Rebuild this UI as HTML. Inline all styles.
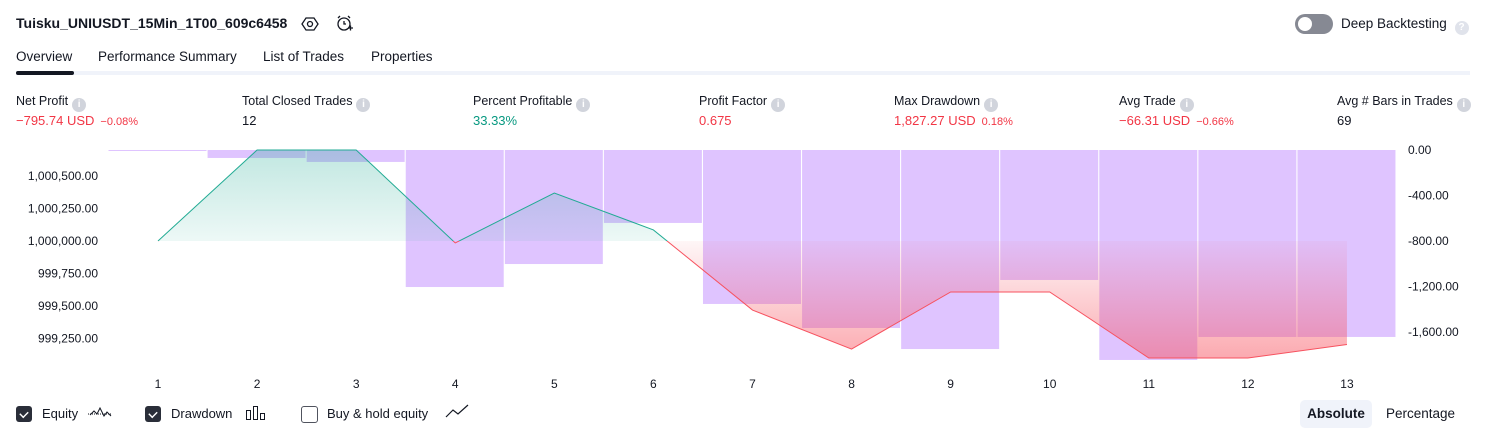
<!DOCTYPE html>
<html><head><meta charset="utf-8">
<style>
body{margin:0;width:1486px;height:438px;background:#fff;font-family:"Liberation Sans",sans-serif;color:#131722;overflow:hidden;position:relative}
.a{position:absolute;white-space:nowrap}
.lbl{font-size:12.5px;color:#131722}
.val{font-size:13px}
.red{color:#f23645}.grn{color:#089981}
.info{display:inline-block;width:14px;height:14px;border-radius:50%;background:#d1d4dc;color:#fff;font-size:10px;text-align:center;line-height:14px;font-weight:bold;vertical-align:-2px;margin-left:4px}
.pct{font-size:11px;margin-left:6px}
.tab{font-size:13.5px;top:49px}
.cb{position:absolute;width:16px;height:16px;border-radius:3px;top:406px}
</style></head><body>
<div class="a" style="left:16px;top:15px;font-size:14px;font-weight:bold">Tuisku_UNIUSDT_15Min_1T00_609c6458</div>
<svg class="a" style="left:301px;top:15px" width="18" height="18" viewBox="0 0 18 18"><path d="M5 3h8l4 6-4 6H5L1 9z" fill="none" stroke="#131722" stroke-width="1.3"/><circle cx="9" cy="9" r="2.5" fill="none" stroke="#131722" stroke-width="1.3"/></svg>
<svg class="a" style="left:335px;top:14px" width="20" height="20" viewBox="0 0 20 20"><circle cx="9" cy="10" r="6" fill="none" stroke="#131722" stroke-width="1.3"/><path d="M9 7v3h2M3 4l2-2M15 4l-2-2M13 14h5M15.5 11.5v5" stroke="#131722" stroke-width="1.3" fill="none"/></svg>
<div class="a" style="left:1295px;top:14px;width:38px;height:20px;border-radius:10px;background:#868993"><div style="position:absolute;left:3px;top:3px;width:14px;height:14px;border-radius:50%;background:#fff"></div></div>
<div class="a" style="left:1341px;top:16px;font-size:13.5px">Deep Backtesting <span class="info" style="background:#e0e3eb">?</span></div>

<div class="a tab" style="left:16px">Overview</div>
<div class="a tab" style="left:98px">Performance Summary</div>
<div class="a tab" style="left:263px">List of Trades</div>
<div class="a tab" style="left:371px">Properties</div>
<div class="a" style="left:16px;top:71px;width:1454px;height:4px;background:#f0f3fa"></div>
<div class="a" style="left:16px;top:71px;width:58px;height:4px;border-radius:2px;background:#131722"></div>

<div class="a lbl" style="left:16px;top:94px">Net Profit<span class="info">i</span></div>
<div class="a val red" style="left:16px;top:113px">−795.74 USD<span class="pct">−0.08%</span></div>
<div class="a lbl" style="left:242px;top:94px">Total Closed Trades<span class="info">i</span></div>
<div class="a val" style="left:242px;top:113px">12</div>
<div class="a lbl" style="left:473px;top:94px">Percent Profitable<span class="info">i</span></div>
<div class="a val grn" style="left:473px;top:113px">33.33%</div>
<div class="a lbl" style="left:699px;top:94px">Profit Factor<span class="info">i</span></div>
<div class="a val red" style="left:699px;top:113px">0.675</div>
<div class="a lbl" style="left:894px;top:94px">Max Drawdown<span class="info">i</span></div>
<div class="a val red" style="left:894px;top:113px">1,827.27 USD<span class="pct">0.18%</span></div>
<div class="a lbl" style="left:1119px;top:94px">Avg Trade<span class="info">i</span></div>
<div class="a val red" style="left:1119px;top:113px">−66.31 USD<span class="pct">−0.66%</span></div>
<div class="a lbl" style="left:1337px;top:94px">Avg # Bars in Trades<span class="info">i</span></div>
<div class="a val" style="left:1337px;top:113px">69</div>

<svg id="chart" class="a" style="left:0;top:0" width="1486" height="390" font-family="Liberation Sans, sans-serif" font-size="12">
<defs>
<linearGradient id="gg" gradientUnits="userSpaceOnUse" x1="0" y1="150" x2="0" y2="241"><stop offset="0" stop-color="#22ab94" stop-opacity="0.28"/><stop offset="1" stop-color="#22ab94" stop-opacity="0.08"/></linearGradient>
<linearGradient id="rg" gradientUnits="userSpaceOnUse" x1="0" y1="241" x2="0" y2="360"><stop offset="0" stop-color="#f7525f" stop-opacity="0.05"/><stop offset="1" stop-color="#f7525f" stop-opacity="0.5"/></linearGradient>
<clipPath id="above"><rect x="0" y="0" width="1486" height="241"/></clipPath>
<clipPath id="below"><rect x="0" y="241" width="1486" height="200"/></clipPath>
</defs>
<g id="bars"></g><g id="eq"></g><g id="axes"></g>
</svg>

<div class="cb" style="left:16px;background:#2a2e39"><span style="position:absolute;left:4px;top:2px;width:6px;height:9px;border:solid #fff;border-width:0 2px 2px 0;transform:rotate(45deg) scale(.7)"></span></div>
<div class="a" style="left:42px;top:406px;font-size:13px">Equity</div>
<svg class="a" style="left:87px;top:403px" width="26" height="20"><path d="M1 11h24" stroke="#131722" stroke-dasharray="1 1"/><path d="M3 12l4-4 3 3 3-6 4 8 3-4 4 4" fill="none" stroke="#131722"/></svg>
<div class="cb" style="left:145px;background:#2a2e39"><span style="position:absolute;left:4px;top:2px;width:6px;height:9px;border:solid #fff;border-width:0 2px 2px 0;transform:rotate(45deg) scale(.7)"></span></div>
<div class="a" style="left:171px;top:406px;font-size:13px">Drawdown</div>
<svg class="a" style="left:245px;top:405px" width="22" height="16"><rect x="1.5" y="5.5" width="4" height="9" fill="none" stroke="#131722"/><rect x="8.5" y="1.5" width="4" height="13" fill="none" stroke="#131722"/><rect x="15.5" y="8.5" width="4" height="6" fill="none" stroke="#131722"/></svg>
<div class="cb" style="left:301px;border:1.3px solid #50535e;width:15px;height:15px;box-sizing:border-box;width:17px;height:17px"></div>
<div class="a" style="left:327px;top:406px;font-size:13px">Buy &amp; hold equity</div>
<svg class="a" style="left:445px;top:404px" width="24" height="16"><path d="M1 13l7-7 5 4 10-9" fill="none" stroke="#131722" stroke-width="1.2"/></svg>
<div class="a" style="left:1300px;top:400px;width:72px;height:28px;border-radius:5px;background:#f0f3fa;font-weight:bold;font-size:13.5px;line-height:28px;text-align:center">Absolute</div>
<div class="a" style="left:1386px;top:400px;height:28px;font-size:13.5px;line-height:28px">Percentage</div>

<script>
const categories=[1,2,3,4,5,6,7,8,9,10,11,12,13];
const equityValues=[1000000,1000700,1000700,999985,1000369,1000085,999469,999169,999608,999608,999100,999100,999204];
const drawdownValues=[-5,-70,-105,-1204,-1002,-641,-1353,-1564,-1749,-1142,-1845,-1643,-1643];
const leftTicks=[1000500,1000250,1000000,999750,999500,999250];
const rightTicks=[0,-400,-800,-1200,-1600];
const NS='http://www.w3.org/2000/svg';
const xS=i=>158+(i-1)*99.08;
const yL=v=>241-(v-1000000)*0.13;
const yR=v=>150-v*0.1138;
const base=yL(1000000);
function mk(tag,attrs,parent){const e=document.createElementNS(NS,tag);for(const k in attrs)e.setAttribute(k,attrs[k]);parent.appendChild(e);return e;}
const gB=document.getElementById('bars'),gE=document.getElementById('eq'),gA=document.getElementById('axes');
categories.forEach((c,i)=>{
  const y0=yR(0),y1=yR(drawdownValues[i]);
  const r=mk('rect',{x:xS(c)-49.5,y:y0,width:98,height:Math.max(1,y1-y0),fill:'#c593ff','fill-opacity':0.55},gB);
  
  
});
const pts=categories.map((c,i)=>[xS(c),yL(equityValues[i])]);
const line=pts.map(p=>p.join(',')).join(' ');
const poly=line+' '+pts[pts.length-1][0]+','+base+' '+pts[0][0]+','+base;
const fa=mk('polygon',{points:poly,fill:'url(#gg)','clip-path':'url(#above)'},gE);


const fb=mk('polygon',{points:poly,fill:'url(#rg)','clip-path':'url(#below)'},gE);


const la=mk('polyline',{points:line,fill:'none',stroke:'#22ab94','stroke-width':1,'clip-path':'url(#above)'},gE);


const lb=mk('polyline',{points:line,fill:'none',stroke:'#f7525f','stroke-width':1,'clip-path':'url(#below)'},gE);


leftTicks.forEach(v=>{const t=mk('text',{x:98,y:yL(v)+4,'text-anchor':'end',fill:'#131722'},gA);t.textContent=v.toLocaleString('en-US',{minimumFractionDigits:2});

});
rightTicks.forEach(v=>{const t=mk('text',{x:1408,y:yR(v)+4,fill:'#131722'},gA);t.textContent=(v===0?'0.00':v.toLocaleString('en-US',{minimumFractionDigits:2}));

});
categories.forEach(c=>{const t=mk('text',{x:xS(c),y:388,'text-anchor':'middle',fill:'#131722'},gA);t.textContent=c;

});
</script>
</body></html>
